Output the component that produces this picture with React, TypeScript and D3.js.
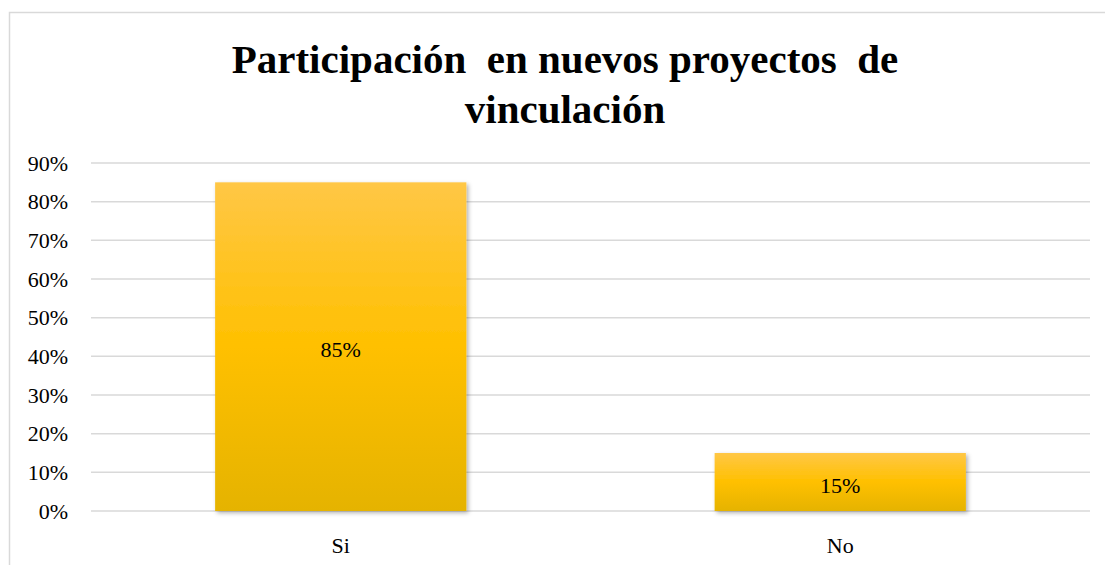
import React, { useEffect, useRef } from "react";
import * as d3 from "d3";

// Chart data
const categories = ["Si", "No"];
const values = [0.85, 0.15];
const yTicks = [0, 0.1, 0.2, 0.3, 0.4, 0.5, 0.6, 0.7, 0.8, 0.9];
const titleLines = ["Participación  en nuevos proyectos  de", "vinculación"];

const App = () => {
  const svgRef = useRef<SVGSVGElement | null>(null);

  useEffect(() => {
    const svg = d3.select(svgRef.current);
    svg.selectAll("*").remove();

    const font = "'Liberation Serif', 'Times New Roman', serif";

    // Outer frame
    svg
      .append("rect")
      .attr("x", 9.5)
      .attr("y", 12.5)
      .attr("width", 1110)
      .attr("height", 600)
      .attr("fill", "#fff")
      .attr("stroke", "#d9d9d9")
      .attr("stroke-width", 1.5);

    // Gradient and shadow defs
    const defs = svg.append("defs");
    const grad = defs
      .append("linearGradient")
      .attr("id", "barGrad")
      .attr("x1", 0)
      .attr("y1", 0)
      .attr("x2", 0)
      .attr("y2", 1);
    grad.append("stop").attr("offset", "0%").attr("stop-color", "#ffc746");
    grad.append("stop").attr("offset", "50%").attr("stop-color", "#ffc000");
    grad.append("stop").attr("offset", "100%").attr("stop-color", "#e5b300");

    const shadow = defs
      .append("filter")
      .attr("id", "shadow")
      .attr("x", "-10%")
      .attr("y", "-10%")
      .attr("width", "120%")
      .attr("height", "120%");
    shadow
      .append("feDropShadow")
      .attr("dx", 2)
      .attr("dy", 2)
      .attr("stdDeviation", 2)
      .attr("flood-color", "#000")
      .attr("flood-opacity", 0.3);

    // Plot area
    const left = 91;
    const right = 1090;
    const top = 163;
    const bottom = 511;

    const x = d3.scaleBand().domain(categories).range([left, right]);
    const y = d3.scaleLinear().domain([0, 0.9]).range([bottom, top]);

    // Title
    titleLines.forEach((line, i) => {
      svg
        .append("text")
        .attr("x", 565)
        .attr("y", 73 + i * 50)
        .attr("text-anchor", "middle")
        .attr("xml:space", "preserve")
        .style("white-space", "pre")
        .style("font-family", font)
        .style("font-weight", "bold")
        .style("font-size", "41px")
        .text(line);
    });

    // Gridlines
    svg
      .selectAll(".grid")
      .data(yTicks)
      .enter()
      .append("line")
      .attr("x1", left)
      .attr("x2", right)
      .attr("y1", (d) => y(d))
      .attr("y2", (d) => y(d))
      .attr("stroke", "#d9d9d9")
      .attr("stroke-width", 1.5);

    // Y tick labels
    svg
      .selectAll(".ytick")
      .data(yTicks)
      .enter()
      .append("text")
      .attr("x", 68)
      .attr("y", (d) => y(d))
      .attr("dy", "0.35em")
      .attr("text-anchor", "end")
      .style("font-family", font)
      .style("font-size", "22px")
      .attr("fill", "#000")
      .text((d) => d3.format(".0%")(d));

    // Bars
    const barW = x.bandwidth() * 0.503;
    svg
      .selectAll(".bar")
      .data(values)
      .enter()
      .append("rect")
      .attr("x", (d, i) => x(categories[i])! + (x.bandwidth() - barW) / 2)
      .attr("y", (d) => y(d))
      .attr("width", barW)
      .attr("height", (d) => bottom - y(d))
      .attr("fill", "url(#barGrad)")
      .attr("filter", "url(#shadow)");

    // Data labels
    svg
      .selectAll(".label")
      .data(values)
      .enter()
      .append("text")
      .attr("x", (d, i) => x(categories[i])! + x.bandwidth() / 2)
      .attr("y", (d) => (y(d) + bottom) / 2 + 3)
      .attr("dy", "0.35em")
      .attr("text-anchor", "middle")
      .style("font-family", font)
      .style("font-size", "22px")
      .attr("fill", "#000")
      .text((d) => d3.format(".0%")(d));

    // Category labels
    svg
      .selectAll(".xtick")
      .data(categories)
      .enter()
      .append("text")
      .attr("x", (d) => x(d)! + x.bandwidth() / 2)
      .attr("y", 553)
      .attr("text-anchor", "middle")
      .style("font-family", font)
      .style("font-size", "22px")
      .attr("fill", "#000")
      .text((d) => d);
  }, []);

  return (
    <svg
      ref={svgRef}
      width={1105}
      height={565}
      style={{ position: "absolute", left: 0, top: 0, display: "block" }}
    ></svg>
  );
};

export default App;
